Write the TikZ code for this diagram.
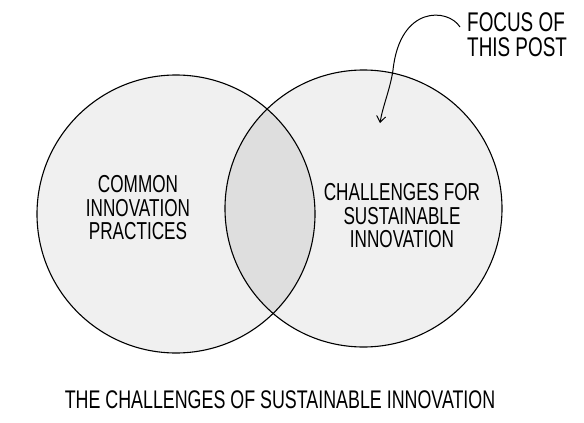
\documentclass[tikz,border=0pt]{standalone}
\usepackage{fontspec}
\setmainfont{Liberation Sans}[FakeStretch=0.70]
\usetikzlibrary{arrows.meta}
\definecolor{vfill}{RGB}{240,240,240}
\definecolor{lensc}{RGB}{222,222,222}
\begin{document}
\begin{tikzpicture}[x=1pt,y=-1pt,
  venn/.style={circle, draw=black, line width=1.1pt, minimum size=#1, inner sep=0pt},
  lbl/.style={align=center, font=\fontsize{24.5}{23.5}\selectfont, inner sep=0pt},
  pointer/.style={line width=1pt, -{Straight Barb[length=6pt,width=9pt]}}]
\useasboundingbox (0,0) rectangle (584,423);
\fill[white] (0,0) rectangle (584,423);
% fills
\fill[vfill] (176,214) circle[radius=139pt];
\fill[vfill] (363.5,208.5) circle[radius=138.5pt];
\begin{scope}
  \clip (176,214) circle[radius=139pt];
  \fill[lensc] (363.5,208.5) circle[radius=138.5pt];
\end{scope}
% outlines
\node[venn=278pt] (L) at (176,214) {};
\node[venn=277pt] (R) at (363.5,208.5) {};
% labels
\node[lbl] (common) at (138,208) {COMMON\\INNOVATION\\PRACTICES};
\node[lbl] (sust) at (402,216) {CHALLENGES FOR\\SUSTAINABLE\\INNOVATION};
\node[lbl, align=left, anchor=west, font=\fontsize{27}{25}\selectfont] (focus) at (467,35) {FOCUS OF\\THIS POST};
\node[lbl, font=\fontsize{25.5}{25.5}\selectfont] (title) at (280,400) {THE CHALLENGES OF SUSTAINABLE INNOVATION};
% arrow
\coordinate (astart) at (460,27);
\coordinate (aend) at (380,123);
\draw[pointer] (astart) .. controls (448,8) and (400,5) .. (393,70)
  .. controls (390,90) and (383,105) .. (aend);
\end{tikzpicture}
\end{document}
